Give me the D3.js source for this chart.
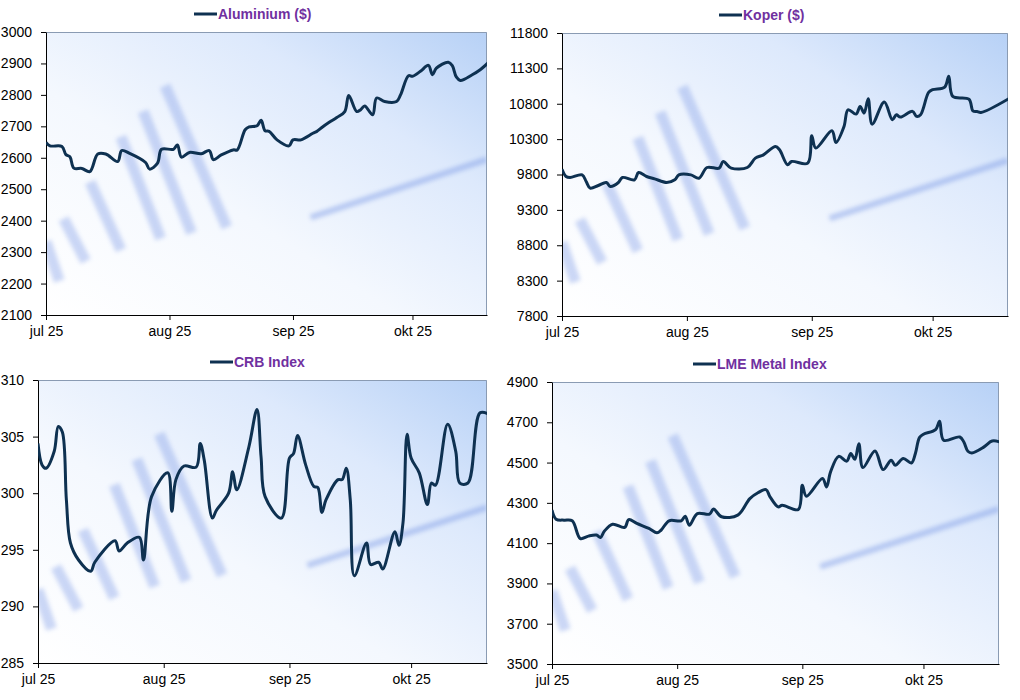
<!DOCTYPE html>
<html>
<head>
<meta charset="utf-8">
<script src="https://cdn.jsdelivr.net/npm/d3@7"></script>
<style>
  body { margin: 0; background: #ffffff; }
  svg { display: block; font-family: "Liberation Sans", Arial, sans-serif; }
</style>
</head>
<body>
<svg id="chart" width="1020" height="700"></svg>
<script>
// month ticks shared by all four panels
var monthTicks = ["2025-07-01", "2025-08-01", "2025-09-01", "2025-10-01"];
var monthLabels = ["jul 25", "aug 25", "sep 25", "okt 25"];

// Aluminium ($)
var alumDates = ["07-01","07-02","07-05","07-06","07-07","07-08","07-10","07-12","07-14","07-16",
  "07-19","07-20","07-22","07-26","07-27","07-29","07-30","08-02","08-03","08-04",
  "08-06","08-09","08-11","08-12","08-14","08-17","08-18","08-20","08-21","08-23",
  "08-24","08-25","08-26","08-28","08-31","09-01","09-03","09-06","09-07","09-08",
  "09-10","09-12","09-14","09-15","09-17","09-18","09-19","09-21","09-22","09-24",
  "09-27","09-28","09-30","10-01","10-03","10-05","10-06","10-07","10-10","10-11",
  "10-12","10-13","10-16","10-18","10-20"];
var alumValues = [2649,2638,2636,2610,2603,2567,2566,2556,2612,2612,
  2588,2623,2614,2585,2564,2583,2627,2627,2641,2602,
  2617,2613,2623,2594,2609,2625,2625,2689,2698,2702,
  2719,2686,2684,2657,2638,2657,2657,2678,2684,2694,
  2712,2728,2747,2798,2747,2753,2765,2737,2790,2779,
  2779,2800,2861,2859,2875,2894,2864,2885,2904,2893,
  2857,2846,2864,2880,2902];

// Koper ($)
var koperDates = ["07-01","07-02","07-03","07-06","07-07","07-08","07-10","07-12","07-13","07-15",
  "07-16","07-19","07-20","07-22","07-24","07-27","07-29","07-30","08-02","08-04",
  "08-06","08-09","08-10","08-12","08-16","08-18","08-20","08-23","08-24","08-26",
  "08-27","08-31","09-01","09-02","09-06","09-07","09-09","09-10","09-12","09-13",
  "09-14","09-15","09-16","09-19","09-21","09-22","09-23","09-26","09-27","09-28",
  "09-30","10-01","10-04","10-05","10-06","10-10","10-11","10-12","10-13","10-20"];
var koperValues = [9875,9772,9758,9795,9701,9607,9644,9687,9630,9687,
  9758,9725,9828,9772,9739,9687,9725,9795,9795,9748,
  9899,9890,9984,9890,9899,10031,10078,10196,10149,9937,
  9984,9960,10347,10173,10418,10253,10479,10715,10654,10762,
  10668,10871,10512,10824,10574,10644,10611,10692,10621,10644,
  10960,10998,11036,11187,10904,10865,10700,10690,10677,10875];

// CRB Index
var crbDates = ["07-01","07-02","07-03","07-05","07-06","07-07","07-08","07-09","07-11","07-14",
  "07-15","07-20","07-21","07-23","07-26","07-27","07-29","08-02","08-03","08-04",
  "08-06","08-09","08-10","08-11","08-13","08-14","08-17","08-18","08-19","08-22",
  "08-24","08-25","08-26","08-30","09-01","09-02","09-03","09-05","09-07","09-08",
  "09-09","09-10","09-13","09-14","09-15","09-16","09-17","09-20","09-21","09-23",
  "09-24","09-27","09-28","09-29","09-30","10-01","10-03","10-05","10-06","10-07",
  "10-10","10-12","10-13","10-15","10-18","10-20"];
var crbValues = [304.4,302.5,302.2,303.7,305.9,305.4,299.4,295.6,294.1,293.1,
  293.9,295.8,294.9,295.6,296.1,294.1,299.7,301.8,298.4,301.2,
  302.4,302.3,304.4,302.9,297.8,298.5,300.0,301.9,300.3,304.1,
  307.4,303.2,299.7,297.8,303.1,303.5,305.1,302.5,300.6,300.5,
  298.3,299.4,301.2,301.2,302.2,299.4,292.7,295.6,293.7,293.9,
  293.3,296.6,295.4,297.4,305.2,303.1,301.8,299.0,300.9,300.7,
  306.1,303.7,300.9,300.9,307.1,307.0];

// LME Metal Index
var lmeDates = ["07-01","07-02","07-04","07-06","07-08","07-10","07-12","07-13","07-14","07-16",
  "07-19","07-20","07-22","07-25","07-27","07-28","07-30","08-02","08-03","08-04",
  "08-06","08-09","08-10","08-12","08-16","08-19","08-21","08-23","08-24","08-26",
  "08-27","08-31","09-01","09-02","09-06","09-07","09-08","09-10","09-12","09-13",
  "09-14","09-15","09-16","09-19","09-21","09-23","09-24","09-26","09-28","09-29",
  "09-30","10-01","10-04","10-05","10-06","10-10","10-11","10-12","10-13","10-16",
  "10-18","10-20"];
var lmeValues = [4264,4219,4214,4211,4123,4135,4140,4128,4160,4194,
  4178,4217,4198,4173,4151,4164,4211,4211,4234,4189,
  4247,4244,4269,4231,4239,4321,4350,4366,4330,4280,
  4288,4267,4388,4333,4421,4379,4454,4531,4507,4545,
  4516,4594,4475,4558,4465,4512,4487,4520,4498,4545,
  4624,4641,4664,4705,4611,4627,4602,4556,4548,4578,
  4607,4602];

var parseDay = d3.timeParse("%Y-%m-%d");
function toPoints(dates, values) {
  return dates.map(function (d, i) {
    return { date: parseDay("2025-" + d), value: values[i] };
  });
}

var panels = [
  { title: "Aluminium ($)", dates: alumDates, values: alumValues,
    yMin: 2100, yMax: 3000, yStep: 100,
    x0: 46, x1: 487, y0: 32, y1: 315, titleX: 218, titleY: 19 },
  { title: "Koper ($)", dates: koperDates, values: koperValues,
    yMin: 7800, yMax: 11800, yStep: 500,
    x0: 562, x1: 1008, y0: 33, y1: 316, titleX: 743, titleY: 20 },
  { title: "CRB Index", dates: crbDates, values: crbValues,
    yMin: 285, yMax: 310, yStep: 5,
    x0: 38, x1: 487, y0: 380, y1: 663, titleX: 234, titleY: 367 },
  { title: "LME Metal Index", dates: lmeDates, values: lmeValues,
    yMin: 3500, yMax: 4900, yStep: 200,
    x0: 552, x1: 999, y0: 382, y1: 664, titleX: 717, titleY: 369 }
];

var lineColor = "#0e3151";
var titleColor = "#7030a0";
var xStart = new Date(2025, 6, 1);
var xEnd = new Date(2025, 9, 19, 17);

// backdrop strokes (fractions of the plot box), imitating the photo behind the plots
var decoBars = [
  [0.00, 0.74, 0.03, 0.88],
  [0.04, 0.66, 0.09, 0.81],
  [0.10, 0.53, 0.17, 0.77],
  [0.17, 0.37, 0.26, 0.73],
  [0.22, 0.28, 0.33, 0.71],
  [0.27, 0.19, 0.41, 0.69]
];

var svg = d3.select("#chart");
var defs = svg.append("defs");

var bg = defs.append("linearGradient").attr("id", "bgGrad")
  .attr("x1", "0%").attr("y1", "100%").attr("x2", "100%").attr("y2", "0%");
bg.append("stop").attr("offset", "0%").attr("stop-color", "#ffffff");
bg.append("stop").attr("offset", "40%").attr("stop-color", "#f4f8fe");
bg.append("stop").attr("offset", "72%").attr("stop-color", "#dde9fc");
bg.append("stop").attr("offset", "100%").attr("stop-color", "#b7d1f6");

var blur = defs.append("filter").attr("id", "soft")
  .attr("x", "-20%").attr("y", "-20%").attr("width", "140%").attr("height", "140%");
blur.append("feGaussianBlur").attr("stdDeviation", 2);

panels.forEach(function (p, idx) {
  var w = p.x1 - p.x0, h = p.y1 - p.y0;
  var data = toPoints(p.dates, p.values);

  var x = d3.scaleTime().domain([xStart, xEnd]).range([0, w]);
  var y = d3.scaleLinear().domain([p.yMin, p.yMax]).range([h, 0]);

  var g = svg.append("g").attr("transform", "translate(" + p.x0 + "," + p.y0 + ")");

  defs.append("clipPath").attr("id", "clip" + idx)
    .append("rect").attr("width", w).attr("height", h);

  g.append("rect").attr("width", w).attr("height", h).attr("fill", "url(#bgGrad)");

  var deco = g.append("g").attr("clip-path", "url(#clip" + idx + ")");
  var decoInner = deco.append("g").attr("filter", "url(#soft)").attr("opacity", 0.45);
  decoBars.forEach(function (b) {
    decoInner.append("line")
      .attr("x1", w * b[0]).attr("y1", h * b[1])
      .attr("x2", w * b[2]).attr("y2", h * b[3])
      .attr("stroke", "#8fa8ea").attr("stroke-width", 11);
  });
  decoInner.append("line")
    .attr("x1", w * 0.6).attr("y1", h * 0.655)
    .attr("x2", w * 1.0).attr("y2", h * 0.45)
    .attr("stroke", "#7896e4").attr("stroke-width", 6);

  // frame top/right
  g.append("path")
    .attr("d", "M0,0.5H" + (w - 0.5) + "V" + h)
    .attr("fill", "none").attr("stroke", "#8a9bb3").attr("stroke-width", 1);

  var yTicks = d3.range(p.yMin, p.yMax + p.yStep / 2, p.yStep);
  var yAxis = g.append("g")
    .call(d3.axisLeft(y).tickValues(yTicks).tickSize(5).tickSizeOuter(0)
      .tickPadding(9).tickFormat(d3.format("d")));
  yAxis.select(".domain").attr("stroke", "#000");
  yAxis.selectAll("text").attr("font-size", 14).attr("fill", "#000");

  var xAxis = g.append("g").attr("transform", "translate(0," + h + ")")
    .call(d3.axisBottom(x).tickValues(monthTicks.map(parseDay)).tickSize(5).tickSizeOuter(0)
      .tickPadding(6).tickFormat(function (d, i) { return monthLabels[i]; }));
  xAxis.select(".domain").attr("stroke", "#000");
  xAxis.selectAll("text").attr("font-size", 14).attr("fill", "#000");

  var line = d3.line()
    .x(function (d) { return x(d.date); })
    .y(function (d) { return y(d.value); })
    .curve(d3.curveCatmullRom.alpha(0.5));

  g.append("path").datum(data)
    .attr("clip-path", "url(#clip" + idx + ")")
    .attr("d", line)
    .attr("fill", "none")
    .attr("stroke", lineColor)
    .attr("stroke-width", 3)
    .attr("stroke-linejoin", "round");

  // legend-style title
  svg.append("line")
    .attr("x1", p.titleX - 24).attr("x2", p.titleX - 1)
    .attr("y1", p.titleY - 5).attr("y2", p.titleY - 5)
    .attr("stroke", lineColor).attr("stroke-width", 3);
  svg.append("text")
    .attr("x", p.titleX).attr("y", p.titleY)
    .attr("font-size", 14).attr("font-weight", "bold")
    .attr("fill", titleColor)
    .text(p.title);
});
</script>
</body>
</html>
